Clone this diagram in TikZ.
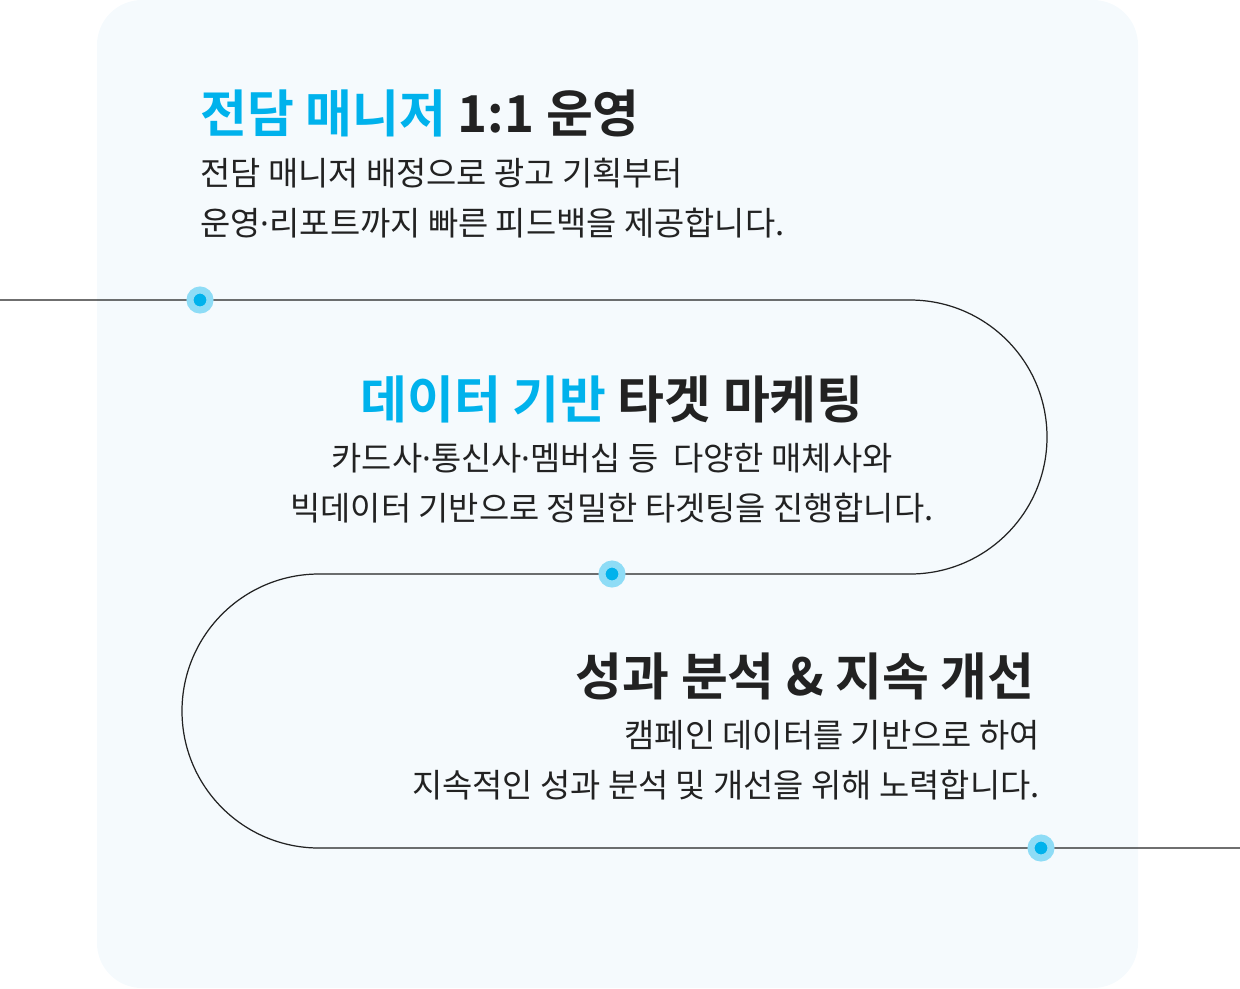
\documentclass[tikz,border=0pt]{standalone}
\usepackage{fontspec}
\setmainfont{Noto Sans CJK KR}
\newfontfamily\krbold{Noto Sans CJK KR Bold}
\newfontfamily\latindot{Noto Sans}
\newcommand{\md}{{\latindot ·}}
\usetikzlibrary{positioning}
\definecolor{skyblue}{HTML}{00B2EC}
\definecolor{halo}{HTML}{8EDCF6}
\definecolor{panel}{HTML}{F5FAFD}
\definecolor{ink}{HTML}{222222}
\tikzset{
  headline/.style={font=\krbold\fontsize{29}{32}\selectfont,text=ink,inner sep=0pt},
  bodytext/.style={font=\fontsize{18.7}{28.5}\selectfont,text=ink,inner sep=0pt},
  stepdot/.style={circle,fill=skyblue,minimum size=0.4cm,inner sep=0pt,
    draw=halo,line width=0.14cm},
}
\begin{document}
\begin{tikzpicture}[x=0.02cm,y=-0.02cm]
\useasboundingbox (0,0) rectangle (1240,988);
\fill[panel,rounded corners=0.9cm] (97,0) rectangle (1138,988);

% the winding road
\draw[ink,line width=0.7pt] (0,300) -- (910,300) arc[start angle=-90,end angle=90,radius=137]
  -- (319,574) arc[start angle=270,end angle=90,radius=137] -- (1240,848);

% dots
\node[stepdot] (dotone) at (200,300) {};
\node[stepdot] (dottwo) at (612,574) {};
\node[stepdot] (dotthree) at (1041,848) {};

% first block
\node[headline,anchor=base west] (titleone) at (200,132) {\textcolor{skyblue}{전담 매니저} 1:1 운영};
\node[bodytext,anchor=north west,align=left] (textone) at (200,158)
  {전담 매니저 배정으로 광고 기획부터\\운영\md 리포트까지 빠른 피드백을 제공합니다.};

% second block
\node[headline,anchor=base] (titletwo) at (612,418) {\textcolor{skyblue}{데이터 기반} 타겟 마케팅};
\node[bodytext,anchor=north,align=center] (texttwo) at (612,443)
  {카드사\md 통신사\md 멤버십 등\ \ 다양한 매체사와\\빅데이터 기반으로 정밀한 타겟팅을 진행합니다.};

% third block
\node[headline,anchor=base east] (titlethree) at (1035,695) {성과 분석 \& 지속 개선};
\node[bodytext,anchor=north east,align=right] (textthree) at (1040,720)
  {캠페인 데이터를 기반으로 하여\\지속적인 성과 분석 및 개선을 위해 노력합니다.};
\end{tikzpicture}
\end{document}
